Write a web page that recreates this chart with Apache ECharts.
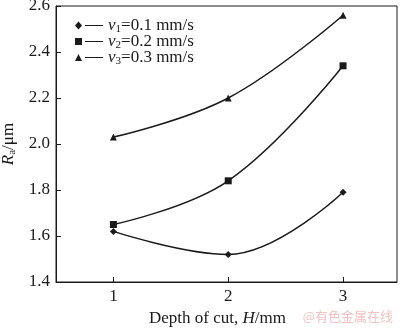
<!DOCTYPE html>
<html><head><meta charset="utf-8">
<script src="https://cdn.jsdelivr.net/npm/echarts@6/dist/echarts.min.js"></script>
<style>html,body{margin:0;padding:0;background:#fff}#c{width:400px;height:328px}</style>
</head><body><div id="c"></div>
<script>
const depths = [1, 2, 3];
const v1Values = [1.62, 1.52, 1.79];
const v2Values = [1.65, 1.84, 2.34];
const v3Values = [2.03, 2.20, 2.56];
const seriesNames = ['v1', 'v2', 'v3'];
const legendSubs = ['1', '2', '3'];
const legendSpeeds = ['=0.1 mm/s', '=0.2 mm/s', '=0.3 mm/s'];
const yTicks = [1.4, 1.6, 1.8, 2.0, 2.2, 2.4, 2.6];

const FONT = 'Liberation Serif';
const black = '#1a1a1a';
const rich = {
  n: {fontFamily: FONT, fontSize: 17, color: black},
  i: {fontFamily: FONT, fontSize: 17, fontStyle: 'italic', color: black},
  s: {fontFamily: FONT, fontSize: 11, color: black, padding: [8, 0, 0, 0]}
};
function pairs(vals){ return depths.map((d, k) => [d, vals[k]]); }
const symbols = ['diamond', 'rect', 'triangle'];
const icons = [
  'path://M0,4 L3.5,0 L7,4 L3.5,8 Z M10,3.4 L28,3.4 L28,4.6 L10,4.6 Z',
  'path://M0,0.5 L7,0.5 L7,7.5 L0,7.5 Z M10,3.4 L28,3.4 L28,4.6 L10,4.6 Z',
  'path://M3.5,0.5 L7,7.5 L0,7.5 Z M10,3.4 L28,3.4 L28,4.6 L10,4.6 Z'
];
const allVals = [v1Values, v2Values, v3Values];
const chart = echarts.init(document.getElementById('c'));
chart.setOption({
  animation: false,
  grid: {left: 56, right: 3, top: 6, bottom: 46, show: true, borderColor: black, borderWidth: 1,
    containLabel: false, outerBoundsMode: 'none'},
  xAxis: {
    type: 'value', min: 0.5, max: 3.47,
    axisLine: {lineStyle: {color: black, width: 1}},
    axisTick: {inside: true, length: 5, customValues: depths, lineStyle: {color: black}},
    axisLabel: {customValues: depths, fontFamily: FONT, fontSize: 17, color: black, margin: 6},
    splitLine: {show: false},
    name: '{n|Depth of cut, }{i|H}{n|/mm}',
    nameLocation: 'middle', nameGap: 28,
    nameTextStyle: {rich: rich, padding: [0, 18, 0, 0]}
  },
  yAxis: {
    type: 'value', min: 1.4, max: 2.6, interval: 0.2,
    axisLine: {show: true, lineStyle: {color: black, width: 1}},
    axisTick: {show: true, inside: true, length: 5, lineStyle: {color: black}},
    axisLabel: {fontFamily: FONT, fontSize: 17, color: black, margin: 6,
      formatter: v => v.toFixed(1)},
    splitLine: {show: false},
    name: '{i|R}{s|a}{n|/μm}',
    nameLocation: 'middle', nameGap: 31,
    nameTextStyle: {rich: rich}
  },
  legend: {
    orient: 'vertical', left: 70, top: 12, itemGap: -2,
    itemWidth: 28, itemHeight: 8,
    data: seriesNames.map((n, k) => ({name: n, icon: icons[k]})),
    formatter: name => {
      const k = seriesNames.indexOf(name);
      return '{i|v}{s|' + legendSubs[k] + '}{n|' + legendSpeeds[k] + '}';
    },
    textStyle: {rich: rich, padding: [0, 0, 0, 0]},
    itemStyle: {color: black, borderWidth: 0}
  },
  series: seriesNames.map((n, k) => ({
    name: n, type: 'line', data: pairs(allVals[k]), smooth: 0.4,
    symbol: symbols[k], symbolSize: 7,
    lineStyle: {color: black, width: 1.5},
    itemStyle: {color: black}
  })),
  graphic: [{
    type: 'text', right: 7, top: 310,
    style: {text: '@有色金属在线', fill: '#f0c2c2', font: '13px "Noto Sans CJK SC"'}
  }]
});
</script></body></html>
